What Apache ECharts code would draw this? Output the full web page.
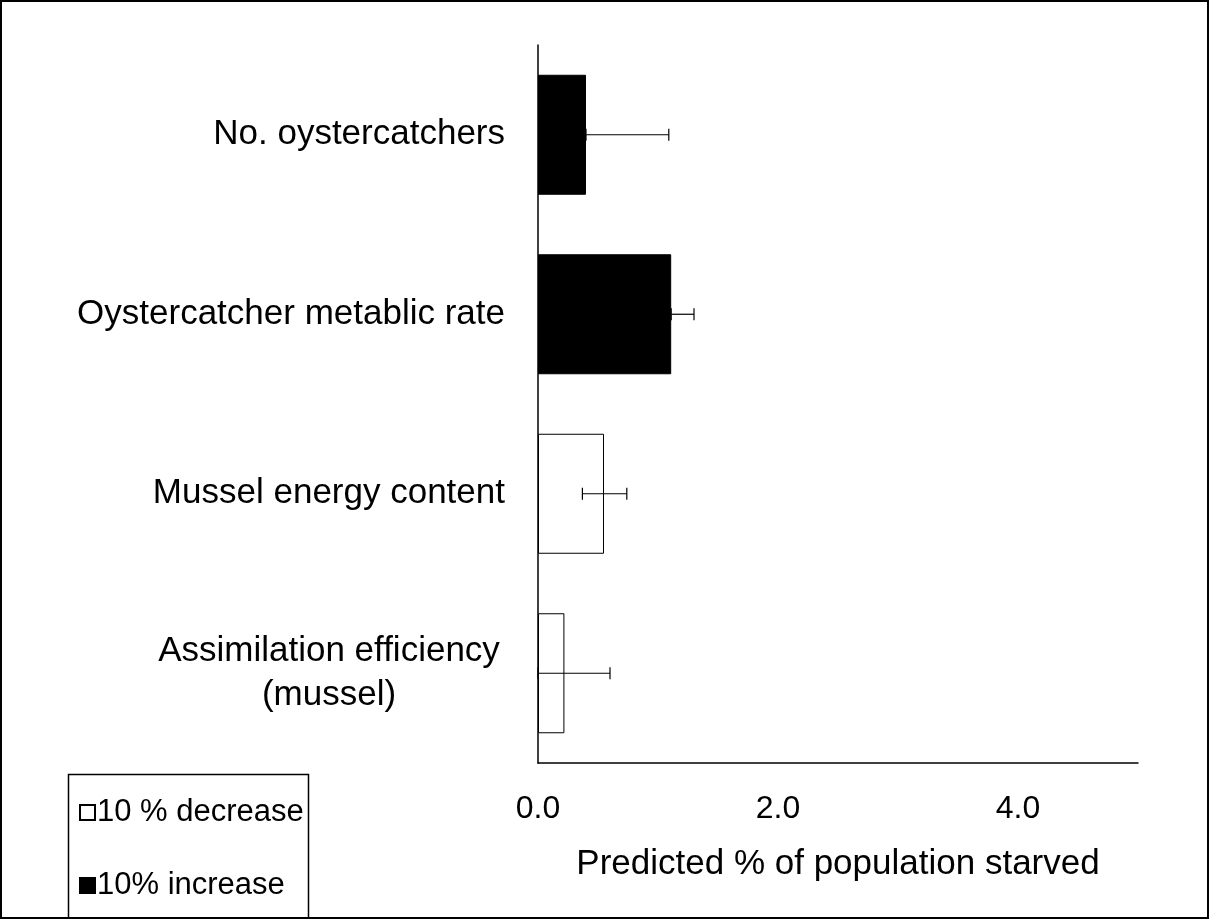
<!DOCTYPE html>
<html>
<head>
<meta charset="utf-8">
<script src="https://cdn.jsdelivr.net/npm/echarts@6/dist/echarts.min.js"></script>
<style>
  html, body { margin: 0; padding: 0; background: #fff; }
  #chart { width: 1209px; height: 919px; box-sizing: border-box; border: 2px solid #000; }
</style>
</head>
<body>
<div id="chart"></div>
<script>
// Categories, top to bottom
const categories = ['No. oystercatchers', 'Oystercatcher metablic rate', 'Mussel energy content', 'Assimilation efficiency\n(mussel)'];
// Bar values (null where the other treatment applies)
const increaseValues = [0.40, 1.11, null, null];
const decreaseValues = [null, null, 0.55, 0.22];
// Error bar extents [low, high]
const errLow = [0.40, 1.11, 0.37, 0.0];
const errHigh = [1.09, 1.30, 0.74, 0.60];
const xTicks = [0, 2, 4];

const chart = echarts.init(document.getElementById('chart'));
const font = 'Liberation Sans, Arial, sans-serif';

const option = {
  animation: false,
  backgroundColor: '#fff',
  grid: { left: 536, right: 69, top: 43, bottom: 154 },
  xAxis: {
    type: 'value',
    min: 0, max: 5, interval: 2,
    axisLine: { show: true, lineStyle: { color: '#000', width: 1.5 } },
    axisTick: { show: false },
    splitLine: { show: false },
    axisLabel: {
      color: '#000', fontSize: 32, fontFamily: font, margin: 30,
      showMaxLabel: false,
      formatter: v => xTicks.includes(v) ? v.toFixed(1) : ''
    },
    name: 'Predicted % of population starved',
    nameLocation: 'middle', nameGap: 84,
    nameTextStyle: { color: '#000', fontSize: 35, fontFamily: font }
  },
  yAxis: {
    type: 'category',
    data: categories,
    inverse: true,
    axisLine: { show: true, lineStyle: { color: '#000', width: 1.5 } },
    axisTick: { show: false },
    axisLabel: {
      color: '#000', fontSize: 35, fontFamily: font, margin: 33,
      formatter: v => v.includes('\n') ? v.split('\n').map(s => '{c|' + s + '}').join('\n') : v,
      rich: { c: { width: 352, align: 'center', fontSize: 35, lineHeight: 44, fontFamily: font, color: '#000' } }
    }
  },
  legend: {
    left: 72, top: 790, orient: 'vertical', itemGap: 42,
    itemWidth: 15, itemHeight: 15, icon: 'rect',
    textStyle: { color: '#000', fontSize: 31, fontFamily: font, padding: [0, 0, 0, -3] },
    data: ['10 % decrease', '10% increase']
  },
  graphic: [{
    type: 'rect', left: 64, top: 770,
    shape: { width: 240, height: 144 },
    style: { fill: 'none', stroke: '#000', lineWidth: 1.5 }
  }],
  series: [
    {
      name: '10 % decrease', type: 'bar', stack: 's', barWidth: 120,
      itemStyle: { color: '#fff', borderColor: '#000', borderWidth: 1 },
      data: decreaseValues
    },
    {
      name: '10% increase', type: 'bar', stack: 's', barWidth: 120,
      itemStyle: { color: '#000', borderColor: '#000', borderWidth: 1 },
      data: increaseValues
    },
    {
      type: 'custom', silent: true, z: 10,
      data: categories.map((c, i) => [errLow[i], errHigh[i], i]),
      encode: { x: [0, 1], y: 2 },
      renderItem: (params, api) => {
        const lo = api.coord([api.value(0), api.value(2)]);
        const hi = api.coord([api.value(1), api.value(2)]);
        const h = 6;
        const st = { stroke: '#000', lineWidth: 1.2 };
        return {
          type: 'group',
          children: [
            { type: 'line', shape: { x1: lo[0], y1: lo[1], x2: hi[0], y2: hi[1] }, style: st },
            { type: 'line', shape: { x1: lo[0], y1: lo[1] - h, x2: lo[0], y2: lo[1] + h }, style: st },
            { type: 'line', shape: { x1: hi[0], y1: hi[1] - h, x2: hi[0], y2: hi[1] + h }, style: st }
          ]
        };
      }
    }
  ]
};

chart.setOption(option);
</script>
</body>
</html>
